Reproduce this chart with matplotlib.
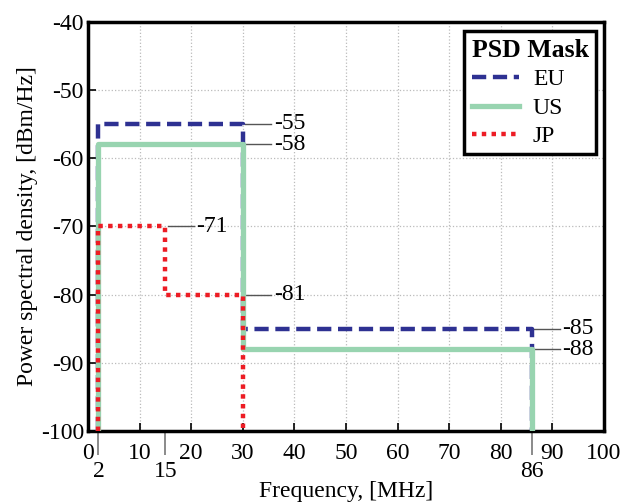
"""PSD masks for EU / US / JP, drawn as step outlines with level labels."""

import matplotlib
matplotlib.use("Agg")
import matplotlib.pyplot as plt

plt.rcParams['font.family'] = ['Liberation Serif', 'DejaVu Serif']
plt.rcParams['font.size'] = 17
plt.rcParams['axes.unicode_minus'] = False

# mask outlines (frequency in MHz, psd in dBm/Hz)
eu_freq = [2, 2, 30, 30, 86, 86]
eu_psd = [-100, -55, -55, -85, -85, -100]
us_freq = [2, 2, 30, 30, 86, 86]
us_psd = [-100, -58, -58, -88, -88, -100]
jp_freq = [2, 2, 15, 15, 30, 30]
jp_psd = [-100, -70, -70, -80, -80, -100]

# level labels: where the leader starts and what it says
label_freq = [30, 30, 15, 30, 86, 86]
label_psd = [-55, -58, -70, -80, -85, -88]
label_text = ['-55', '-58', '-71', '-81', '-85', '-88']

xticks = [0, 10, 20, 30, 40, 50, 60, 70, 80, 90, 100]
yticks = [-100, -90, -80, -70, -60, -50, -40]
extra_xticks = [2, 15, 86]

EU_COLOR = '#2e3192'
US_COLOR = '#98d4b0'
JP_COLOR = '#ed1c24'

fig = plt.figure(figsize=(6.29, 5.04), dpi=100)
ax = fig.add_axes([0.14, 0.145, 0.82, 0.812])

ax.plot(eu_freq, eu_psd, color=EU_COLOR, lw=3.2, ls=(0, (3.2, 1.5)), label='EU', zorder=3)
ax.plot(us_freq, us_psd, color=US_COLOR, lw=3.8, ls='-', label='US', zorder=4)
ax.plot(jp_freq, jp_psd, color=JP_COLOR, lw=3.2, ls=(0, (1, 1.2)), label='JP', zorder=5)

# leader lines + values
for f, p, t in zip(label_freq, label_psd, label_text):
    ax.plot([f + 0.5, f + 5.5], [p, p], color='#555555', lw=1.0, zorder=2, clip_on=False)
    ax.text(f + 6.0, p, t, ha='left', va='center', fontsize=17)

ax.set_xlim(0, 100)
ax.set_ylim(-100, -40)
ax.set_xticks(xticks)
ax.set_yticks(yticks)
ax.tick_params(direction='in', length=6, width=1.2)
ax.tick_params(axis='x', pad=9)
ax.tick_params(axis='y', pad=3)
ax.grid(True, ls=':', color='#bbbbbb', lw=0.9)
ax.set_axisbelow(True)
for sp in ax.spines.values():
    sp.set_linewidth(2.5)

# extra frequency marks below the axis
sec = ax.secondary_xaxis('bottom')
sec.set_xticks(extra_xticks)
sec.tick_params(direction='out', length=17, width=1.2, color='#777777', pad=5)
sec.spines['bottom'].set_visible(False)

ax.set_xlabel('Frequency, [MHz]', labelpad=12)
ax.set_ylabel('Power spectral density, [dBm/Hz]', labelpad=2)

leg = ax.legend(title='PSD Mask', loc='upper right', bbox_to_anchor=(0.984, 0.976),
                borderaxespad=0, fancybox=False, framealpha=1, edgecolor='black',
                handlelength=2.0, handletextpad=0.6, borderpad=0.3, labelspacing=0.3,
                alignment='left', title_fontsize=18.5)
leg.get_title().set_fontweight('bold')
leg.get_frame().set_linewidth(2.5)

fig.savefig('out.png', dpi=100)
